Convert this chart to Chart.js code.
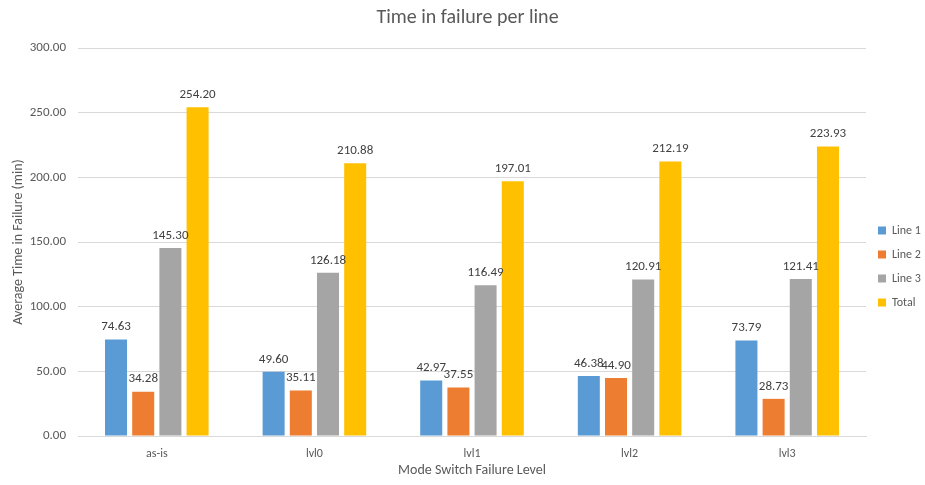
<!DOCTYPE html>
<html>
<head>
<meta charset="utf-8">
<script src="https://cdn.jsdelivr.net/npm/chart.js@4/dist/chart.umd.min.js"></script>
<style>
  html, body { margin: 0; padding: 0; background: #ffffff; }
  #wrap { width: 925px; height: 485px; position: relative; }
</style>
</head>
<body>
<div id="wrap"><canvas id="chart"></canvas></div>
<script>
const categories = ['as-is', 'lvl0', 'lvl1', 'lvl2', 'lvl3'];
const line1 = [74.63, 49.60, 42.97, 46.38, 73.79];
const line2 = [34.28, 35.11, 37.55, 44.90, 28.73];
const line3 = [145.30, 126.18, 116.49, 120.91, 121.41];
const total = [254.20, 210.88, 197.01, 212.19, 223.93];
const seriesNames = ['Line 1', 'Line 2', 'Line 3', 'Total'];
const seriesColors = ['#5B9BD5', '#ED7D31', '#A5A5A5', '#FFC000'];
const yTicks = [0, 50, 100, 150, 200, 250, 300];

const FONT = 'Carlito, Calibri, Lato, sans-serif';

// Value labels printed above each bar
const valueLabels = {
  id: 'valueLabels',
  afterDatasetsDraw(chart) {
    const ctx = chart.ctx;
    ctx.save();
    ctx.font = '13px ' + FONT;
    ctx.fillStyle = '#404040';
    ctx.textAlign = 'center';
    ctx.textBaseline = 'bottom';
    chart.data.datasets.forEach((ds, i) => {
      const meta = chart.getDatasetMeta(i);
      if (meta.hidden) return;
      meta.data.forEach((bar, j) => {
        ctx.fillText(ds.data[j].toFixed(2), bar.x, bar.y - 6);
      });
    });
    ctx.restore();
  }
};

// Nudge the right-hand legend down a little
const legendOffset = {
  id: 'legendOffset',
  afterLayout(chart) {
    const lg = chart.legend;
    if (lg) { lg.top += 25; lg.bottom += 25; }
  }
};

const allSeries = [line1, line2, line3, total];

new Chart(document.getElementById('chart'), {
  type: 'bar',
  data: {
    labels: categories,
    datasets: allSeries.map((d, i) => ({
      label: seriesNames[i],
      data: d,
      backgroundColor: seriesColors[i],
      borderWidth: 0,
      categoryPercentage: 0.69,
      barPercentage: 0.81
    }))
  },
  options: {
    responsive: true,
    maintainAspectRatio: false,
    animation: false,
    layout: { padding: { left: 10, right: 0, top: 4, bottom: 6 } },
    plugins: {
      title: {
        display: true,
        text: 'Time in failure per line',
        color: '#595959',
        font: { family: FONT, size: 20, weight: 'normal' },
        padding: { top: 2, bottom: 18 }
      },
      legend: {
        position: 'right',
        maxWidth: 59,
        labels: {
          boxWidth: 8,
          boxHeight: 8,
          color: '#595959',
          font: { family: FONT, size: 12 },
          padding: 12
        }
      },
      tooltip: { enabled: false }
    },
    scales: {
      x: {
        grid: { display: false },
        border: { color: '#d9d9d9' },
        afterFit(s) { s.height = 43; },
        ticks: { color: '#595959', font: { family: FONT, size: 12 }, padding: 3 },
        title: {
          display: true,
          text: 'Mode Switch Failure Level',
          color: '#595959',
          font: { family: FONT, size: 14 },
          padding: { top: 2, bottom: 0 }
        }
      },
      y: {
        min: 0,
        max: 300,
        grid: { color: '#d9d9d9', drawTicks: false },
        border: { display: false },
        afterFit(s) { s.width = 68; },
        afterBuildTicks(s) { s.ticks = yTicks.map(v => ({ value: v })); },
        ticks: {
          color: '#595959',
          font: { family: FONT, size: 13 },
          padding: 12,
          callback: v => Number(v).toFixed(2)
        },
        title: {
          display: true,
          text: 'Average Time in Failure (min)',
          color: '#595959',
          font: { family: FONT, size: 14 },
          padding: { top: 0, bottom: 0 }
        }
      }
    }
  },
  plugins: [valueLabels, legendOffset]
});
</script>
</body>
</html>
